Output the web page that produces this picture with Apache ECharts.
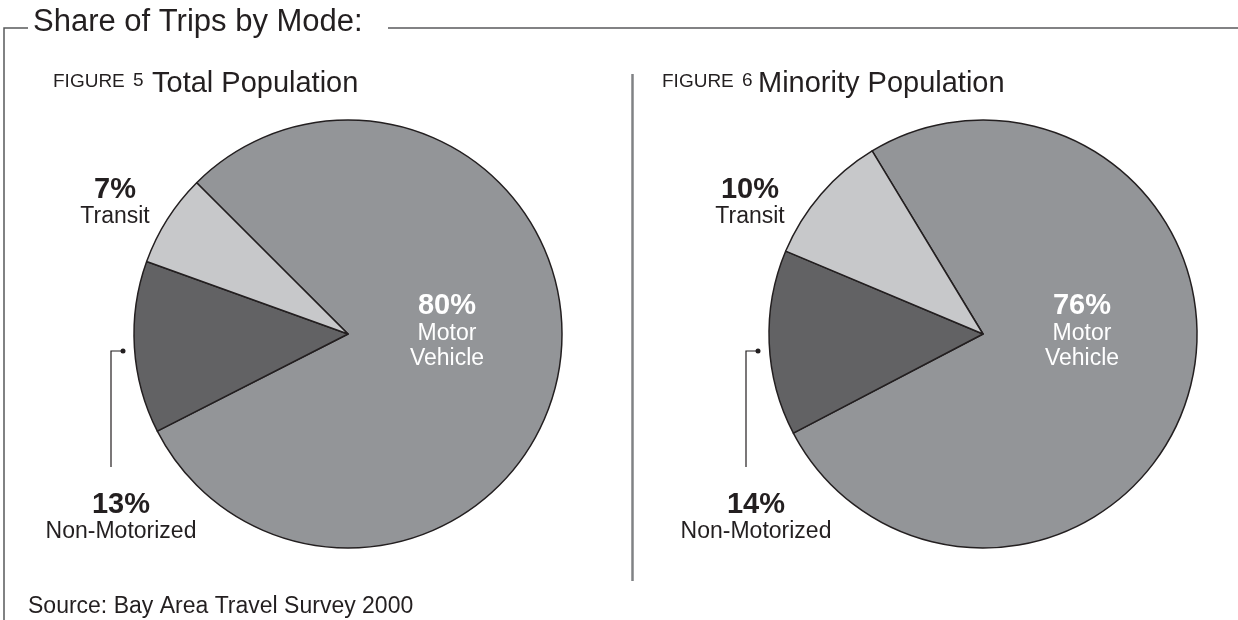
<!DOCTYPE html>
<html>
<head>
<meta charset="utf-8">
<title>Share of Trips by Mode</title>
<script src="https://cdn.jsdelivr.net/npm/echarts@6/dist/echarts.min.js"></script>
<style>
  html, body { margin: 0; padding: 0; background: #fff; }
  #chart { width: 1238px; height: 620px; }
</style>
</head>
<body>
<div id="chart"></div>
<script>
// data
const categories = ['Motor Vehicle', 'Non-Motorized', 'Transit']
const totalShare = [80, 13, 7]
const minorityShare = [76, 14, 10]
const figureNumbers = ['5', '6']
const figureNames = ['Total Population', 'Minority Population']
const sliceColors = ['#939598', '#626264', '#c7c8ca']

const FONT = '"Liberation Sans", Arial, sans-serif'
const INK = '#231f20'
const R = 214

// label block positions, relative to each pie centre
const makeLayout = (cx, cy) => (params) => {
  if (params.dataIndex === 0) {
    return { x: cx + 99, y: cy - 3, align: 'center', verticalAlign: 'middle' }
  }
  if (params.dataIndex === 2) {
    return { x: cx - 233, y: cy - 132, align: 'center', verticalAlign: 'middle' }
  }
  return {
    x: cx - 227, y: cy + 183, align: 'center', verticalAlign: 'middle',
    labelLinePoints: [[cx - 225, cy + 17], [cx - 237, cy + 17], [cx - 237, cy + 133]]
  }
}

const labelText = (p) => {
  const name = p.dataIndex === 0
    ? p.name.split(' ').map(w => '{n|' + w + '}').join('\n')
    : '{n|' + p.name + '}'
  return '{p|' + p.value + '%}\n' + name
}

const makePie = (values, cx, cy, startAngle) => ({
  type: 'pie',
  center: [cx, cy],
  radius: R,
  startAngle: startAngle,
  clockwise: true,
  avoidLabelOverlap: false,
  silent: true,
  itemStyle: { borderColor: INK, borderWidth: 1.5 },
  label: {
    show: true,
    position: 'outside',
    color: INK,
    fontFamily: FONT,
    formatter: labelText,
    rich: {
      p: { fontSize: 29, fontWeight: 'bold', lineHeight: 30, fontFamily: FONT },
      n: { fontSize: 23, lineHeight: 25, fontFamily: FONT }
    }
  },
  labelLine: { show: false },
  labelLayout: makeLayout(cx, cy),
  data: categories.map((c, i) => ({
    name: c,
    value: values[i],
    itemStyle: { color: sliceColors[i] },
    label: i === 0 ? { color: '#fff' } : undefined,
    labelLine: i === 1 ? { show: true, lineStyle: { color: INK, width: 1.2 } } : undefined
  }))
})

const txt = (text, x, y, size, weight) => ({
  type: 'text',
  x: x,
  y: y,
  silent: true,
  style: {
    text: text,
    fill: INK,
    font: (weight || 'normal') + ' ' + size + 'px ' + FONT,
    align: 'left', verticalAlign: 'middle',
    textAlign: 'left', textVerticalAlign: 'middle'
  }
})

const dot = (x, y) => ({
  type: 'circle', silent: true,
  shape: { cx: x, cy: y, r: 2.5 },
  style: { fill: INK }
})

const pies = [
  { cx: 348, cy: 334, start: 135, head: 53, name: 152 },
  { cx: 983, cy: 334, start: 121.2, head: 662, name: 758 }
]

// figure headings: "FIGURE n  Name"
const headings = []
pies.forEach((p, i) => {
  headings.push(txt('FIGURE', p.head, 81.5, 19))
  headings.push(txt(figureNumbers[i], p.head + 80, 81, 19))
  headings.push(txt(figureNames[i], p.name, 84, 29))
})

const chart = echarts.init(document.getElementById('chart'))
chart.setOption({
  animation: false,
  backgroundColor: '#fff',
  graphic: [
    // frame
    { type: 'polyline', silent: true, shape: { points: [[28, 28], [4, 28], [4, 620]] }, style: { stroke: '#58595b', lineWidth: 1.5, fill: null } },
    { type: 'line', silent: true, shape: { x1: 388, y1: 28, x2: 1238, y2: 28 }, style: { stroke: '#58595b', lineWidth: 1.5 } },
    { type: 'line', silent: true, shape: { x1: 632.5, y1: 74, x2: 632.5, y2: 581 }, style: { stroke: '#808285', lineWidth: 2.5 } },
    txt('Share of Trips by Mode:', 33, 22.5, 31),
    ...headings,
    txt('Source: Bay Area Travel Survey 2000', 28, 607, 23),
    dot(pies[0].cx - 225, pies[0].cy + 17),
    dot(pies[1].cx - 225, pies[1].cy + 17)
  ],
  series: [
    makePie(totalShare, pies[0].cx, pies[0].cy, pies[0].start),
    makePie(minorityShare, pies[1].cx, pies[1].cy, pies[1].start)
  ]
})

window.addEventListener('resize', () => chart.resize())
</script>
</body>
</html>
